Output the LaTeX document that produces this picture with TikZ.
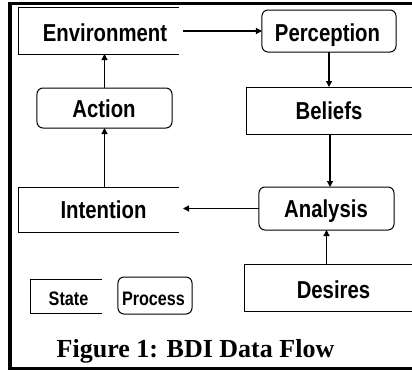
\documentclass[tikz,border=0pt]{standalone}
\usepackage{fontspec}
\setmainfont{Liberation Serif}
\newfontfamily\boxfont{Liberation Sans}[FakeStretch=0.83]
\usetikzlibrary{arrows.meta}

\begin{document}
\begin{tikzpicture}[x=1bp,y=-1bp,
  every node/.style={inner sep=0pt, outer sep=0pt},
  statebox/.style={draw=none},
  procbox/.style={draw, line width=1bp, rounded corners=6bp},
  stateline/.style={line width=1bp},
  big/.style={font=\boxfont\bfseries\fontsize{24.5bp}{28bp}\selectfont,
              text height=17.5bp, text depth=0pt},
  small/.style={font=\boxfont\bfseries\fontsize{19.5bp}{23bp}\selectfont,
              text height=14bp, text depth=0pt},
  arr/.style={line width=1.2bp, -{Triangle[length=6bp,width=6bp]}},
]
\useasboundingbox (0,0) rectangle (412,370);

% outer frame (open on the right)
\draw[line width=3bp, line join=miter] (413,3) -- (10,3) -- (10,368) -- (413,368);

% states (open boxes) and processes (rounded boxes)
\node[statebox, minimum width=160bp, minimum height=47bp,
      label={[big, xshift=6bp, yshift=-2.5bp]center:Environment}] (env) at (99,30.5) {};
\node[procbox, minimum width=134bp, minimum height=42bp,
      label={[big, xshift=-1.5bp, yshift=-2bp]center:Perception}] (perc) at (329,31) {};
\node[statebox, minimum width=166bp, minimum height=47bp,
      label={[big, xshift=-1bp, yshift=-0.5bp]center:Beliefs}] (bel) at (330,110.5) {};
\node[procbox, minimum width=135bp, minimum height=40bp,
      label={[big, xshift=-0.5bp, yshift=-0.5bp]center:Action}] (act) at (104.5,108) {};
\node[statebox, minimum width=160bp, minimum height=45bp,
      label={[big, xshift=4.5bp]center:Intention}] (int) at (99,209.5) {};
\node[procbox, minimum width=135bp, minimum height=43bp,
      label={[big, xshift=-0.5bp]center:Analysis}] (ana) at (326.5,208.5) {};
\node[statebox, minimum width=168bp, minimum height=47bp,
      label={[big, xshift=4.5bp, yshift=-2.5bp]center:Desires}] (des) at (329,287.5) {};
\node[statebox, minimum width=71bp, minimum height=34bp,
      label={[small, xshift=2bp, yshift=-2.5bp]center:State}] (st) at (66.5,296) {};
\node[procbox, minimum width=74bp, minimum height=37bp,
      label={[small, xshift=-1.5bp, yshift=-2.5bp]center:Process}] (proc) at (155,295.5) {};

\foreach \n in {env,bel,int,des,st}
  \draw[stateline] (\n.north east) -- (\n.north west) -- (\n.south west) -- (\n.south east);

% data flow
\draw[arr, shorten <=4bp] (perc.west -| env.east) -- (perc.west);
\draw[arr] (perc.south) -- (perc.south |- bel.north);
\draw[arr] (bel.south) -- (bel.south |- ana.north);
\draw[arr] (ana.south |- des.north) -- (ana.south);
\draw[arr, shorten >=4bp] (ana.west) -- (ana.west -| int.east);
\draw[arr] (int.north -| act.south) -- (act.south);
\draw[arr] (act.north) -- (act.north |- env.south);

% caption
\node[font=\bfseries\fontsize{26bp}{30bp}\selectfont, anchor=base] (cap) at (195.5,357) {Figure 1: BDI Data Flow};
\end{tikzpicture}
\end{document}
